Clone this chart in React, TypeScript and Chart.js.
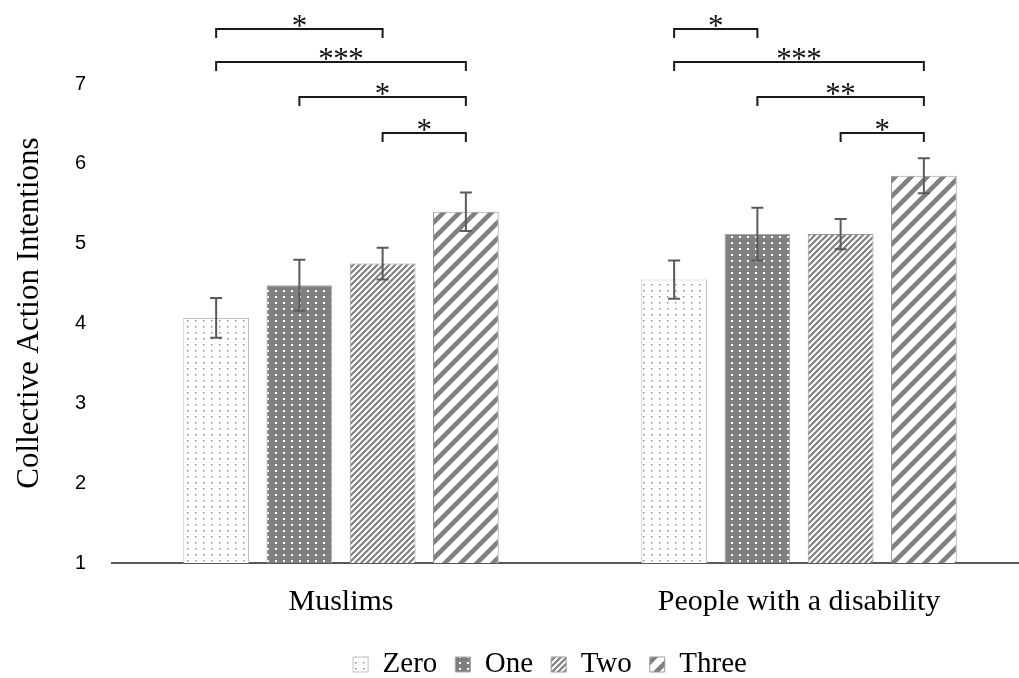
import React, { useEffect, useRef } from 'react';
import { Chart, registerables } from 'chart.js';
Chart.register(...registerables);

const categories = ['Muslims', 'People with a disability'];
const seriesNames = ['Zero', 'One', 'Two', 'Three'];
const zeroValues = [4.07, 4.55];
const oneValues = [4.48, 5.12];
const twoValues = [4.75, 5.12];
const threeValues = [5.4, 5.85];
const zeroErrors = [0.25, 0.24];
const oneErrors = [0.32, 0.33];
const twoErrors = [0.2, 0.19];
const threeErrors = [0.24, 0.22];
const yTickValues = [1, 2, 3, 4, 5, 6, 7];

const bracketGroups = [0, 0, 0, 0, 1, 1, 1, 1];
const bracketFrom = [0, 0, 1, 2, 0, 0, 1, 2];
const bracketTo = [2, 3, 3, 3, 1, 3, 3, 3];
const bracketLevels = [7.689, 7.276, 6.838, 6.387, 7.689, 7.276, 6.838, 6.387];
const bracketLabels = ['*', '***', '*', '*', '*', '***', '**', '*'];

function makePattern(kind: string): CanvasPattern | string {
  const c = document.createElement('canvas');
  const ctx = c.getContext('2d');
  if (!ctx) return '#808080';
  if (kind === 'zero') {
    c.width = 8; c.height = 6;
    ctx.fillStyle = '#ffffff'; ctx.fillRect(0, 0, 8, 6);
    ctx.fillStyle = '#8c8c8c'; ctx.fillRect(3, 2, 1.5, 1.5);
  } else if (kind === 'one') {
    c.width = 8; c.height = 6;
    ctx.fillStyle = '#808080'; ctx.fillRect(0, 0, 8, 6);
    ctx.fillStyle = '#ffffff'; ctx.fillRect(3, 2, 2, 2);
  } else if (kind === 'two') {
    const s = 6;
    c.width = s; c.height = s;
    ctx.fillStyle = '#ffffff'; ctx.fillRect(0, 0, s, s);
    ctx.strokeStyle = '#808080'; ctx.lineWidth = 2.2;
    ctx.beginPath();
    ctx.moveTo(-1, s + 1); ctx.lineTo(s + 1, -1);
    ctx.moveTo(-1, 1); ctx.lineTo(1, -1);
    ctx.moveTo(s - 1, s + 1); ctx.lineTo(s + 1, s - 1);
    ctx.stroke();
  } else {
    const s = 16;
    c.width = s; c.height = s;
    ctx.fillStyle = '#ffffff'; ctx.fillRect(0, 0, s, s);
    ctx.strokeStyle = '#808080'; ctx.lineWidth = 4.6;
    ctx.beginPath();
    ctx.moveTo(-2, s + 2); ctx.lineTo(s + 2, -2);
    ctx.moveTo(-4, 4); ctx.lineTo(4, -4);
    ctx.moveTo(s - 4, s + 4); ctx.lineTo(s + 4, s - 4);
    ctx.stroke();
  }
  const p = ctx.createPattern(c, 'repeat');
  return p || '#808080';
}

export default function App() {
  const ref = useRef<HTMLCanvasElement | null>(null);
  useEffect(() => {
    document.body.style.margin = '0';
    document.body.style.overflow = 'hidden';
    const canvas = ref.current;
    if (!canvas) return;
    const values = [zeroValues, oneValues, twoValues, threeValues];
    const errors = [zeroErrors, oneErrors, twoErrors, threeErrors];
    const kinds = ['zero', 'one', 'two', 'three'];
    const borders = ['#bfbfbf', '#a6a6a6', '#999999', '#999999'];

    const overlay = {
      id: 'overlay',
      afterLayout(chart: any) {
        if (chart.legend) {
          chart.legend.left += 36;
          chart.legend.right += 36;
          chart.legend.top += 11;
          chart.legend.bottom += 11;
        }
      },
      afterDatasetsDraw(chart: any) {
        const ctx = chart.ctx;
        const y = chart.scales.y;
        ctx.save();
        ctx.strokeStyle = '#5a5a5a';
        ctx.lineWidth = 2;
        for (let d = 0; d < values.length; d++) {
          const meta = chart.getDatasetMeta(d);
          for (let g = 0; g < categories.length; g++) {
            const x = meta.data[g].x;
            const top = y.getPixelForValue(values[d][g] + errors[d][g]);
            const bot = y.getPixelForValue(values[d][g] - errors[d][g]);
            ctx.beginPath();
            ctx.moveTo(x, top); ctx.lineTo(x, bot);
            ctx.moveTo(x - 6, top); ctx.lineTo(x + 6, top);
            ctx.moveTo(x - 6, bot); ctx.lineTo(x + 6, bot);
            ctx.stroke();
          }
        }
        ctx.strokeStyle = '#1a1a1a';
        ctx.fillStyle = '#111111';
        ctx.lineWidth = 2;
        ctx.font = '31px "Liberation Serif"';
        ctx.textAlign = 'center';
        ctx.textBaseline = 'alphabetic';
        for (let i = 0; i < bracketLevels.length; i++) {
          const g = bracketGroups[i];
          const x1 = chart.getDatasetMeta(bracketFrom[i]).data[g].x;
          const x2 = chart.getDatasetMeta(bracketTo[i]).data[g].x;
          const yy = y.getPixelForValue(bracketLevels[i]);
          ctx.beginPath();
          ctx.moveTo(x1, yy + 9); ctx.lineTo(x1, yy); ctx.lineTo(x2, yy); ctx.lineTo(x2, yy + 9);
          ctx.stroke();
          const label = bracketLabels[i];
          const n = label.length;
          const cx = (x1 + x2) / 2;
          for (let k = 0; k < n; k++) {
            ctx.fillText(label[k], cx + (k - (n - 1) / 2) * 15, yy + 7);
          }
        }
        ctx.restore();
      },
    };

    const chart = new Chart(canvas, {
      type: 'bar',
      data: {
        labels: categories,
        datasets: seriesNames.map((name, i) => ({
          label: name,
          data: values[i],
          backgroundColor: makePattern(kinds[i]) as any,
          borderColor: borders[i],
          borderWidth: 1,
          barPercentage: 0.79,
          categoryPercentage: 0.727,
        })),
      },
      options: {
        animation: false,
        responsive: false,
        devicePixelRatio: 1,
        layout: { padding: { top: 63, right: 0, left: 0, bottom: 0 } },
        plugins: {
          legend: {
            position: 'bottom',
            labels: {
              boxWidth: 15,
              boxHeight: 15,
              padding: 18,
              color: '#000000',
              font: { family: '"Liberation Serif"', size: 29 },
            },
          },
          tooltip: { enabled: false },
        },
        scales: {
          x: {
            grid: { display: false, drawTicks: false },
            border: { display: true, color: '#595959', width: 2 },
            afterFit: (scale: any) => {
              scale.height = 58;
            },
            ticks: {
              color: '#000000',
              padding: 21,
              font: { family: '"Liberation Serif"', size: 30 },
            },
          },
          y: {
            min: 1,
            max: 7.263,
            grid: { display: false, drawTicks: false },
            border: { display: false },
            afterBuildTicks: (scale: any) => {
              scale.ticks = yTickValues.map((v) => ({ value: v }));
            },
            afterFit: (scale: any) => {
              scale.width = 112;
              scale.paddingTop = 0;
              scale.paddingBottom = 0;
            },
            ticks: {
              color: '#000000',
              padding: 26,
              font: { family: '"Liberation Sans"', size: 20 },
            },
            title: {
              display: true,
              text: 'Collective Action Intentions',
              color: '#000000',
              padding: { top: 11, bottom: 0 },
              font: { family: '"Liberation Serif"', size: 31 },
            },
          },
        },
      },
      plugins: [overlay],
    });
    return () => chart.destroy();
  }, []);
  return (
    <div style={{ width: 1019, height: 678, overflow: 'hidden' }}>
      <canvas ref={ref} width={1028} height={678} style={{ display: 'block' }} />
    </div>
  );
}
